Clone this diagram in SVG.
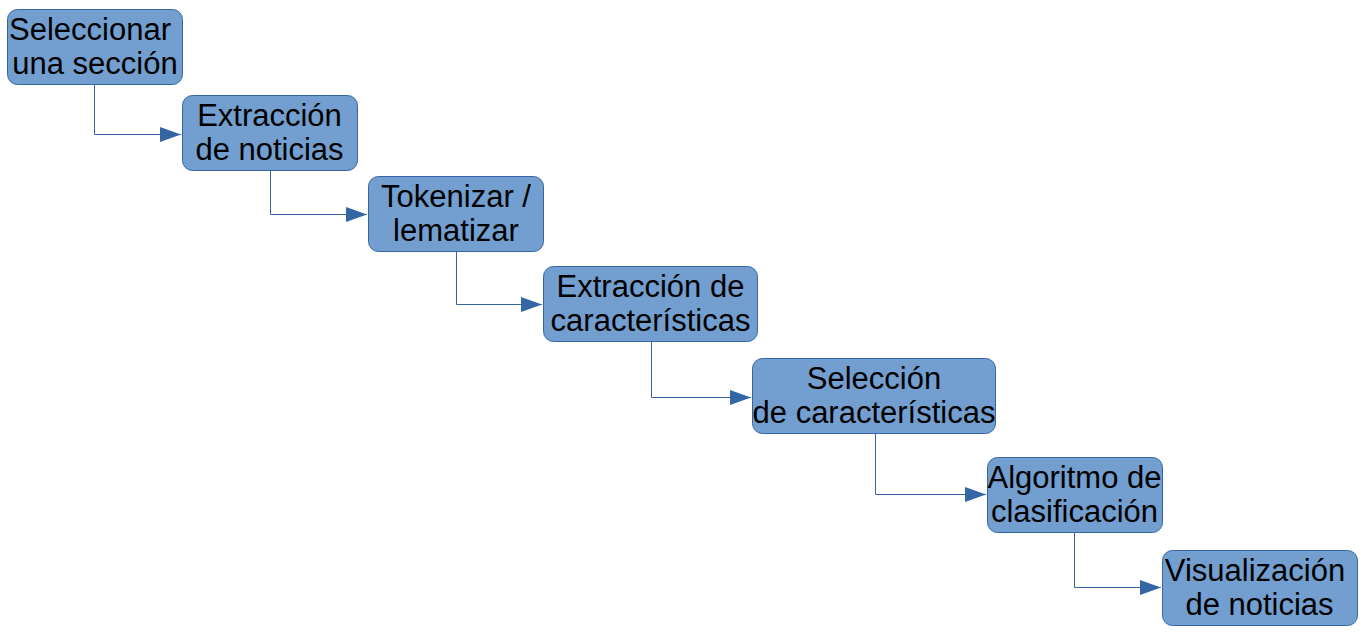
<svg xmlns="http://www.w3.org/2000/svg" width="1361" height="638" viewBox="0 0 1361 638">
<style>
.box{fill:#729fcf;stroke:#3465a4;stroke-width:1}
.t{font-family:"Liberation Sans",Arial,sans-serif;font-size:31px;fill:#000;text-anchor:middle}
.c{fill:none;stroke:#3465a4;stroke-width:1}
</style>
<defs>
<marker id="ah" markerWidth="21" markerHeight="15" refX="21" refY="7.5" orient="auto" markerUnits="userSpaceOnUse">
<path d="M0,0 L21,7.5 L0,15 Z" fill="#3465a4"/>
</marker>
</defs>
<rect width="1361" height="638" fill="#fff"/>
<g id="connectors">
<path class="c" d="M94.5,85 V134.5 H181" marker-end="url(#ah)"/>
<path class="c" d="M270.5,171 V214.5 H367" marker-end="url(#ah)"/>
<path class="c" d="M456.5,251 V304.5 H542" marker-end="url(#ah)"/>
<path class="c" d="M651.5,342 V397.5 H751" marker-end="url(#ah)"/>
<path class="c" d="M875.5,433 V494.5 H986" marker-end="url(#ah)"/>
<path class="c" d="M1074.5,532 V587.5 H1161" marker-end="url(#ah)"/>
</g>
<g id="n1"><rect class="box" x="7.5" y="9.5" width="175" height="75" rx="10"/><text class="t" x="90" y="40">Seleccionar</text><text class="t" x="95" y="74">una sección</text></g>
<g id="n2"><rect class="box" x="182.5" y="95.5" width="175" height="75" rx="10"/><text class="t" x="269.5" y="126">Extracción</text><text class="t" x="269.5" y="160">de noticias</text></g>
<g id="n3"><rect class="box" x="368.5" y="176.5" width="175" height="75" rx="10"/><text class="t" x="456" y="206.5">Tokenizar /</text><text class="t" x="456" y="240.5">lematizar</text></g>
<g id="n4"><rect class="box" x="543.5" y="266.5" width="214" height="75" rx="10"/><text class="t" x="650.5" y="297">Extracción de</text><text class="t" x="650.5" y="331">características</text></g>
<g id="n5"><rect class="box" x="752.5" y="358.5" width="243" height="75" rx="10"/><text class="t" x="874" y="388.5">Selección</text><text class="t" x="874" y="422.5">de características</text></g>
<g id="n6"><rect class="box" x="987.5" y="457.5" width="175" height="75" rx="10"/><text class="t" x="1074.5" y="487.5">Algoritmo de</text><text class="t" x="1074.5" y="521.5">clasificación</text></g>
<g id="n7"><rect class="box" x="1162.5" y="550.5" width="195" height="75" rx="10"/><text class="t" x="1255" y="580.5">Visualización</text><text class="t" x="1259.5" y="614.5">de noticias</text></g>
</svg>
